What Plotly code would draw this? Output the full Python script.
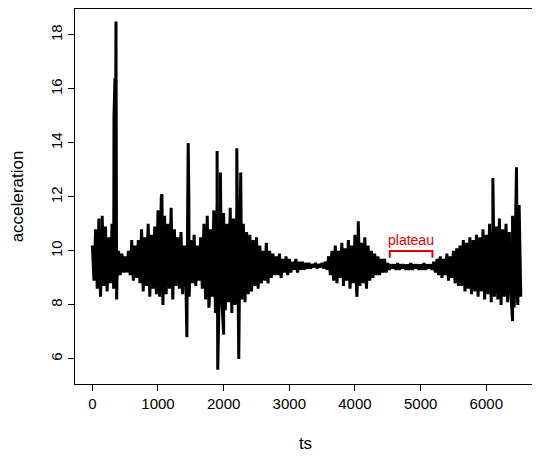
import plotly.graph_objects as go

grid_ts = list(range(0, 6501, 50))
upper = [10.2, 10.8, 11.2, 10.6, 10.9, 10.5,
         11.0, 10.8, 10.0, 9.9,
         9.8, 10.0, 10.4, 10.2,
         10.4, 10.8, 10.5, 11.0, 10.6, 10.9,
         11.5, 12.0, 11.3, 11.0, 11.6, 10.8,
         10.5, 10.7, 10.2, 10.9,
         10.4, 10.6, 10.2, 10.5,
         11.0, 11.3, 10.8, 11.5, 11.8, 11.2,
         11.4, 11.0, 11.6, 11.2, 11.5, 10.9, 11.0, 10.7,
         10.6, 10.4, 10.5, 10.2, 10.0, 10.3, 10.0, 9.9,
         9.8, 9.9, 9.7, 9.8, 9.7, 9.6, 9.7, 9.6, 9.6, 9.55,
         9.55, 9.5, 9.55, 9.5, 9.55, 9.6,
         9.8, 10.0, 10.2, 10.0, 10.3, 10.1, 10.4, 10.2, 10.6, 10.8, 10.3, 10.5, 10.2, 10.0,
         9.9, 9.8, 9.7, 9.7,
         9.55, 9.5, 9.5, 9.55, 9.5, 9.5, 9.5, 9.55, 9.5, 9.5, 9.5, 9.55, 9.5, 9.5,
         9.6, 9.7, 9.8, 9.7, 9.9, 9.8, 10.0, 10.1,
         10.2, 10.4, 10.3, 10.5, 10.4, 10.6, 10.5, 10.8, 10.6, 11.0, 10.7, 10.9, 11.2, 10.8, 11.0, 10.7, 11.3, 10.9, 11.0]
lower = [8.9, 8.6, 8.3, 8.7, 8.5, 8.8,
         8.6, 8.9, 9.1, 9.2,
         9.2, 9.1, 8.9, 9.0,
         8.8, 8.5, 8.7, 8.3, 8.6, 8.4,
         8.3, 8.0, 8.4, 8.6, 8.2, 8.7,
         8.6, 8.4, 8.8, 8.3,
         8.8, 8.7, 8.9, 8.6,
         8.2, 7.9, 8.3, 7.7, 7.6, 8.0,
         7.8, 8.1, 7.7, 8.0, 7.6, 8.2, 8.1, 8.4,
         8.5, 8.7, 8.6, 8.8, 8.9, 8.8, 9.0, 9.1,
         9.1, 9.0, 9.2, 9.1, 9.2, 9.3, 9.2, 9.3, 9.3, 9.35,
         9.35, 9.4, 9.35, 9.4, 9.35, 9.3,
         9.1, 8.9, 8.8, 9.0, 8.7, 8.9, 8.6, 8.8, 8.5, 8.7, 8.8, 8.6, 8.9, 9.0,
         9.1, 9.1, 9.2, 9.2,
         9.3, 9.35, 9.3, 9.3, 9.35, 9.3, 9.3, 9.3, 9.35, 9.3, 9.3, 9.3, 9.35, 9.3,
         9.2, 9.1, 9.0, 9.1, 8.9, 9.0, 8.8, 8.7,
         8.7, 8.5, 8.6, 8.4, 8.5, 8.3, 8.5, 8.2, 8.4, 8.1, 8.3, 8.2, 8.0, 8.3, 8.1, 8.4, 7.9, 8.2, 8.3]

# isolated spikes
spike_ts = [150, 330, 345, 360, 370, 1060, 1440, 1460, 1470, 1780, 1900, 1910, 1950, 2000,
            2200, 2230, 2260, 4030, 4050, 6100, 6400, 6460, 6480, 6500]
spike_val = [11.3, 15.0, 16.4, 18.5, 8.2, 12.1, 6.8, 14.0, 12.0, 8.0, 13.7, 5.6, 12.9, 6.9,
             13.8, 6.0, 12.9, 8.3, 11.1, 12.7, 7.4, 13.1, 8.0, 11.7]

plateau_range = [4530, 5180]

pts = []
for t, hi, lo in zip(grid_ts, upper, lower):
    pts.append((t, hi))
    pts.append((t + 25, lo))
pts += list(zip(spike_ts, spike_val))
pts.sort()
ts = [p[0] for p in pts]
acc = [p[1] for p in pts]

fig = go.Figure()
fig.add_trace(go.Scatter(x=ts, y=acc, mode="lines",
                         line=dict(color="black", width=3), showlegend=False))
# plateau bracket
fig.add_trace(go.Scatter(
    x=[plateau_range[0], plateau_range[0], plateau_range[1], plateau_range[1]],
    y=[9.75, 10.0, 10.0, 9.75], mode="lines",
    line=dict(color="#e00000", width=2), showlegend=False))
fig.add_annotation(x=sum(plateau_range) / 2, y=10.05, text="plateau", showarrow=False,
                   yanchor="bottom", font=dict(color="#e00000", size=14))

axis_common = dict(showline=True, linecolor="black", mirror=True, ticks="outside",
                   ticklen=6, tickcolor="black", showgrid=False, zeroline=False,
                   automargin=False, tickfont=dict(size=15, color="black"))
fig.update_xaxes(range=[-264, 6757], tickvals=list(range(0, 6001, 1000)),
                 title=dict(text="ts", font=dict(size=17), standoff=26), **axis_common)
fig.update_yaxes(range=[5.07, 18.96], tickvals=[6, 8, 10, 12, 14, 16, 18], tickangle=-90,
                 title=dict(text="acceleration", font=dict(size=17), standoff=24), **axis_common)
fig.update_layout(width=540, height=462, margin=dict(l=67, r=12, t=1, b=86),
                  plot_bgcolor="white", paper_bgcolor="white",
                  font=dict(family="Liberation Sans, Arial", color="black"))
fig.write_html("out.html")
